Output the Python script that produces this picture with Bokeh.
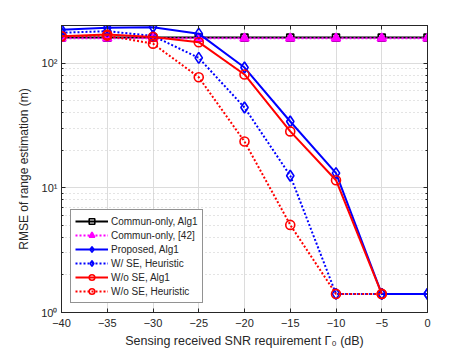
from bokeh.plotting import figure
from bokeh.models import (Range1d, FixedTicker, LinearAxis, LogAxis, Legend, LegendItem,
                          CustomJSTickFormatter)
from bokeh.embed import file_html
from bokeh.resources import INLINE

snr = [-40, -35, -30, -25, -20, -15, -10, -5, 0]
snr_wo = [-40, -35, -30, -25, -20, -15, -10, -5]
commun_alg1 = [160, 160, 160, 160, 160, 160, 160, 160, 160]
commun_42 = [158, 158, 158, 158, 158, 158, 158, 158, 158]
proposed_alg1 = [185, 192, 194, 172, 92, 34, 13.1, 1.41, 1.41]
ws_heuristic = [175, 180, 165, 110, 44, 12.5, 1.41, 1.41, 1.41]
wo_alg1 = [164, 169, 162, 147, 81, 28.3, 11.5, 1.41]
wo_heuristic = [164, 166, 143, 77, 23.5, 5.04, 1.41, 1.41]

x_ticks = [-40, -35, -30, -25, -20, -15, -10, -5, 0]
y_ticks = [1, 10, 100]
y_tick_labels = {1: "10⁰", 10: "10¹", 100: "10²"}
y_minor = [2, 3, 4, 5, 6, 7, 8, 9, 20, 30, 40, 50, 60, 70, 80, 90, 200]

FONT = "Liberation Sans"
AX = "#262626"

p = figure(width=471, height=353, y_axis_type="log", output_backend="svg",
           toolbar_location=None, x_range=Range1d(-40, 0), y_range=Range1d(1, 200),
           min_border_left=61, min_border_right=44, min_border_top=25, min_border_bottom=41)
p.outline_line_color = AX
p.outline_line_width = 1

p.xaxis.ticker = FixedTicker(ticks=x_ticks)
p.yaxis.ticker = FixedTicker(ticks=y_ticks, minor_ticks=y_minor)
p.yaxis.major_label_overrides = y_tick_labels

for ax in [p.xaxis[0], p.yaxis[0]]:
    ax.major_label_text_font = FONT
    ax.major_label_text_font_size = "11px"
    ax.major_label_text_color = AX
    ax.axis_label_text_font = FONT
    ax.axis_label_text_font_size = "12.5px"
    ax.axis_label_text_font_style = "normal"
    ax.axis_label_text_color = AX
    ax.axis_line_color = AX
    ax.major_tick_line_color = AX
    ax.minor_tick_line_color = AX
    ax.major_tick_in = 4
    ax.major_tick_out = 0
    ax.minor_tick_in = 2
    ax.minor_tick_out = 0
p.xaxis.minor_tick_line_color = None
p.xaxis.axis_label = "Sensing received SNR requirement Γ₀ (dB)"
p.yaxis.axis_label = "RMSE of range estimation (m)"
p.yaxis.axis_label_text_font_size = "12px"
p.xaxis.major_label_standoff = 6
p.yaxis.major_label_standoff = 4
p.xaxis.axis_label_standoff = 4
p.yaxis.axis_label_standoff = 7

blank = CustomJSTickFormatter(code="return ''")
top = LinearAxis(ticker=FixedTicker(ticks=x_ticks), formatter=blank,
                 major_tick_in=4, major_tick_out=0, minor_tick_line_color=None,
                 axis_line_color=AX, major_tick_line_color=AX, major_label_standoff=0)
right = LogAxis(ticker=FixedTicker(ticks=y_ticks, minor_ticks=y_minor), formatter=blank,
                major_tick_in=4, major_tick_out=0, minor_tick_in=2, minor_tick_out=0,
                axis_line_color=AX, major_tick_line_color=AX, minor_tick_line_color=AX,
                major_label_standoff=0)
p.add_layout(top, "above")
p.add_layout(right, "right")

p.xgrid.grid_line_color = "#dcdcdc"
p.ygrid.grid_line_color = "#dcdcdc"
p.ygrid.minor_grid_line_color = "#c8c8c8"
p.ygrid.minor_grid_line_dash = "1 3"

items = []

def series(xs, ys, color, dash, marker, label, fill=None, size=8):
    r1 = p.line(xs, ys, line_color=color, line_width=2, line_dash=dash)
    r2 = p.scatter(xs, ys, marker=marker, size=size, line_color=color, line_width=1.6,
                   fill_color=fill)
    items.append(LegendItem(label=label, renderers=[r1, r2]))

series(snr, commun_alg1, "black", "solid", "square", "Commun-only, Alg1", size=7)
series(snr, commun_42, "#ff00ff", "2 2", "triangle", "Commun-only, [42]", fill="#ff00ff", size=9)
series(snr, proposed_alg1, "#0000ff", "solid", "diamond", "Proposed, Alg1", size=11)
series(snr, ws_heuristic, "#0000ff", "2 2", "diamond", "W/ SE, Heuristic", size=11)
series(snr_wo, wo_alg1, "#ff0000", "solid", "circle", "W/o SE, Alg1", size=9)
series(snr_wo, wo_heuristic, "#ff0000", "2 2", "circle", "W/o SE, Heuristic", size=9)

legend = Legend(items=items, location="bottom_left", label_text_font=FONT,
                label_text_font_size="10px", label_text_color=AX,
                glyph_width=33, glyph_height=14, label_height=14, spacing=0,
                padding=4, margin=9, label_standoff=3,
                border_line_color=AX, border_line_width=1, background_fill_alpha=1)
p.add_layout(legend)

open("out.html", "w").write(file_html(p, INLINE))
